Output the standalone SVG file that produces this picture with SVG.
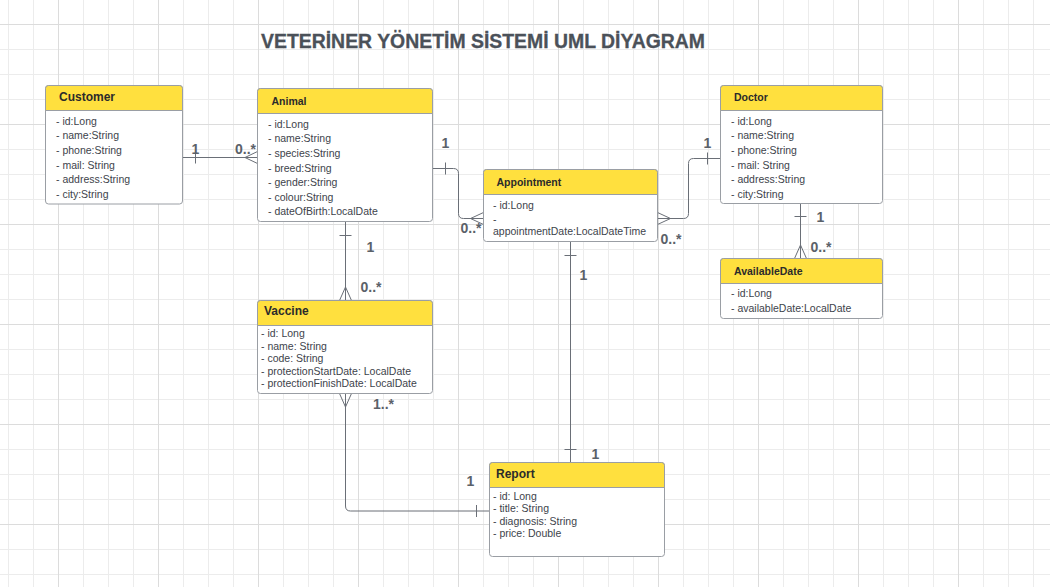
<svg xmlns="http://www.w3.org/2000/svg" width="1050" height="587" viewBox="0 0 1050 587">
<defs>
<pattern id="grid" x="58" y="24" width="100" height="100" patternUnits="userSpaceOnUse">
<path d="M25.5,0V100M50.5,0V100M75.5,0V100M0,25.5H100M0,50.5H100M0,75.5H100" stroke="#ececec" stroke-width="1" fill="none"/>
<path d="M0.5,0V100M0,0.5H100" stroke="#dcdcdc" stroke-width="1" fill="none"/>
</pattern>
<style>
.body{fill:#ffffff;stroke:#9a9ea4;stroke-width:1}
.head{fill:#ffe03e;stroke:#9a9ea4;stroke-width:1}
.ht{font-family:"Liberation Sans",Arial,sans-serif;font-weight:bold;fill:#2b2b2b}
.h12{font-size:12px}
.h10{font-size:10.5px}
.at{font-family:"Liberation Sans",Arial,sans-serif;font-size:10.5px;fill:#3d434b}
.cn{fill:none;stroke:#6a6f77;stroke-width:1}
.lb{font-family:"Liberation Sans",Arial,sans-serif;font-weight:bold;font-size:14px;fill:#5b6169}
.title{font-family:"Liberation Sans",Arial,sans-serif;font-weight:bold;font-size:19.5px;fill:#4b5159;stroke:#4b5159;stroke-width:0.3}
</style>
</defs>
<rect x="0" y="0" width="1050" height="587" fill="#ffffff"/>
<rect x="0" y="0" width="1050" height="587" fill="url(#grid)"/>

<text class="title" x="261" y="48" textLength="444" lengthAdjust="spacingAndGlyphs">VETERİNER YÖNETİM SİSTEMİ UML DİYAGRAM</text>

<g id="connectors">
<!-- Customer - Animal -->
<path class="cn" d="M182.5,157.5H257.5"/>
<path class="cn" d="M195.5,151.5V163.5"/>
<path class="cn" d="M257.5,151.5L245,157.5L257.5,163.5"/>
<text class="lb" x="195.5" y="153.5" text-anchor="middle">1</text>
<text class="lb" x="235" y="153.5">0..*</text>
<!-- Animal - Appointment -->
<path class="cn" d="M432.5,168.5H453.5Q458.5,168.5 458.5,173.5V213.5Q458.5,218.5 463.5,218.5H483.5"/>
<path class="cn" d="M445.5,162.5V174.5"/>
<path class="cn" d="M483.5,212.5L470.5,218.5L483.5,224.5"/>
<text class="lb" x="445.5" y="148" text-anchor="middle">1</text>
<text class="lb" x="460.5" y="233">0..*</text>
<!-- Appointment - Doctor -->
<path class="cn" d="M657.5,218.5H683.5Q688.5,218.5 688.5,213.5V163.5Q688.5,158.5 693.5,158.5H720.5"/>
<path class="cn" d="M707.5,152.5V164.5"/>
<path class="cn" d="M657.5,212.5L670.5,218.5L657.5,224.5"/>
<text class="lb" x="707.5" y="148" text-anchor="middle">1</text>
<text class="lb" x="660.5" y="243.5">0..*</text>
<!-- Doctor - AvailableDate -->
<path class="cn" d="M800.5,203.5V258.5"/>
<path class="cn" d="M794.5,216.5H806.5"/>
<path class="cn" d="M794.5,258.5L800.5,245L806.5,258.5"/>
<text class="lb" x="820.5" y="221.5" text-anchor="middle">1</text>
<text class="lb" x="810.5" y="251.5">0..*</text>
<!-- Animal - Vaccine -->
<path class="cn" d="M345.5,221.5V300.5"/>
<path class="cn" d="M339.5,235.5H351.5"/>
<path class="cn" d="M339.5,300.5L345.5,287L351.5,300.5"/>
<text class="lb" x="370.5" y="251.5" text-anchor="middle">1</text>
<text class="lb" x="360.5" y="291.5">0..*</text>
<!-- Vaccine - Report -->
<path class="cn" d="M345.5,393.5V506Q345.5,511 350.5,511H489.5"/>
<path class="cn" d="M339.5,393.5L345.5,407L351.5,393.5"/>
<path class="cn" d="M476.5,505V517"/>
<text class="lb" x="373" y="409">1..*</text>
<text class="lb" x="470.5" y="486" text-anchor="middle">1</text>
<!-- Appointment - Report -->
<path class="cn" d="M570.5,241.5V462.5"/>
<path class="cn" d="M564.5,255.5H576.5"/>
<path class="cn" d="M564.5,449.5H576.5"/>
<text class="lb" x="583.5" y="280" text-anchor="middle">1</text>
<text class="lb" x="595.5" y="459" text-anchor="middle">1</text>
</g>

<g id="customer">
<rect class="body" x="45.5" y="85.5" width="137" height="118.5" rx="3"/>
<path class="head" d="M45.5,110.5V88.5Q45.5,85.5 48.5,85.5H179.5Q182.5,85.5 182.5,88.5V110.5Z"/>
<text class="ht h12" x="59" y="101">Customer</text>
<text class="at" x="56" y="124.5">- id:Long</text>
<text class="at" x="56" y="139.2">- name:String</text>
<text class="at" x="56" y="153.8">- phone:String</text>
<text class="at" x="56" y="168.5">- mail: String</text>
<text class="at" x="56" y="183.1">- address:String</text>
<text class="at" x="56" y="197.8">- city:String</text>
</g>

<g id="animal">
<rect class="body" x="257.5" y="88.5" width="175" height="133" rx="3"/>
<path class="head" d="M257.5,113.5V91.5Q257.5,88.5 260.5,88.5H429.5Q432.5,88.5 432.5,91.5V113.5Z"/>
<text class="ht h10" x="271.5" y="104.5">Animal</text>
<text class="at" x="268" y="127.8">- id:Long</text>
<text class="at" x="268" y="142.4">- name:String</text>
<text class="at" x="268" y="157">- species:String</text>
<text class="at" x="268" y="171.6">- breed:String</text>
<text class="at" x="268" y="186.2">- gender:String</text>
<text class="at" x="268" y="200.8">- colour:String</text>
<text class="at" x="268" y="215.4">- dateOfBirth:LocalDate</text>
</g>

<g id="appointment">
<rect class="body" x="483.5" y="169.5" width="174" height="72" rx="3"/>
<path class="head" d="M483.5,194.5V172.5Q483.5,169.5 486.5,169.5H654.5Q657.5,169.5 657.5,172.5V194.5Z"/>
<text class="ht h10" x="496.5" y="185.5">Appointment</text>
<text class="at" x="493" y="208.8">- id:Long</text>
<text class="at" x="493" y="222.5">-</text>
<text class="at" x="493" y="234.8">appointmentDate:LocalDateTime</text>
</g>

<g id="doctor">
<rect class="body" x="720.5" y="85.5" width="162" height="118" rx="3"/>
<path class="head" d="M720.5,110.5V88.5Q720.5,85.5 723.5,85.5H879.5Q882.5,85.5 882.5,88.5V110.5Z"/>
<text class="ht h10" x="734" y="101">Doctor</text>
<text class="at" x="731" y="124.5">- id:Long</text>
<text class="at" x="731" y="139.2">- name:String</text>
<text class="at" x="731" y="153.8">- phone:String</text>
<text class="at" x="731" y="168.5">- mail: String</text>
<text class="at" x="731" y="183.1">- address:String</text>
<text class="at" x="731" y="197.8">- city:String</text>
</g>

<g id="availabledate">
<rect class="body" x="720.5" y="258.5" width="162" height="60" rx="3"/>
<path class="head" d="M720.5,283.5V261.5Q720.5,258.5 723.5,258.5H879.5Q882.5,258.5 882.5,261.5V283.5Z"/>
<text class="ht h10" x="734" y="274.5">AvailableDate</text>
<text class="at" x="731" y="297.1">- id:Long</text>
<text class="at" x="731" y="311.5">- availableDate:LocalDate</text>
</g>

<g id="vaccine">
<rect class="body" x="257.5" y="300.5" width="175" height="93" rx="3"/>
<path class="head" d="M257.5,325.5V303.5Q257.5,300.5 260.5,300.5H429.5Q432.5,300.5 432.5,303.5V325.5Z"/>
<text class="ht h12" x="264" y="315">Vaccine</text>
<text class="at" x="261" y="337.1">- id: Long</text>
<text class="at" x="261" y="349.6">- name: String</text>
<text class="at" x="261" y="362.1">- code: String</text>
<text class="at" x="261" y="374.6">- protectionStartDate: LocalDate</text>
<text class="at" x="261" y="387.1">- protectionFinishDate: LocalDate</text>
</g>

<g id="report">
<rect class="body" x="489.5" y="462.5" width="175" height="94" rx="3"/>
<path class="head" d="M489.5,487.5V465.5Q489.5,462.5 492.5,462.5H661.5Q664.5,462.5 664.5,465.5V487.5Z"/>
<text class="ht h12" x="496" y="477.6">Report</text>
<text class="at" x="493" y="499.5">- id: Long</text>
<text class="at" x="493" y="512">- title: String</text>
<text class="at" x="493" y="524.5">- diagnosis: String</text>
<text class="at" x="493" y="537">- price: Double</text>
</g>
</svg>
